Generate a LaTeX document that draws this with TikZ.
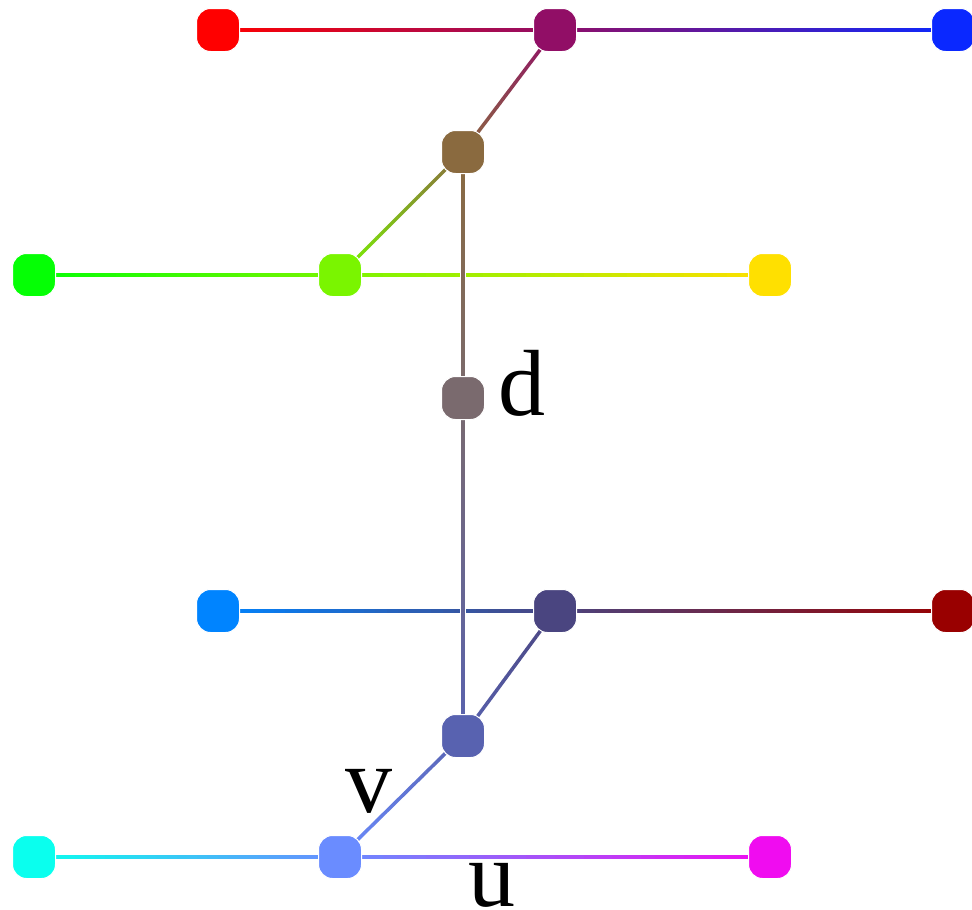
\documentclass[tikz,border=0pt]{standalone}
\usepackage{fontspec}
\setmainfont{Liberation Serif}
\usetikzlibrary{calc}
\pgfdeclarelayer{edges}
\pgfsetlayers{edges,main}
\definecolor{cRed}{HTML}{FF0000}
\definecolor{cPurple}{HTML}{910E66}
\definecolor{cBlue}{HTML}{0A28FF}
\definecolor{cBrown}{HTML}{8A6A3F}
\definecolor{cGreen}{HTML}{05FF05}
\definecolor{cLime}{HTML}{7AF500}
\definecolor{cYellow}{HTML}{FFE000}
\definecolor{cGrey}{HTML}{7A6A6E}
\definecolor{cAzure}{HTML}{0084FF}
\definecolor{cSlate}{HTML}{4A4580}
\definecolor{cDarkRed}{HTML}{990000}
\definecolor{cMedBlue}{HTML}{5862B0}
\definecolor{cCorn}{HTML}{6A8CFF}
\definecolor{cCyan}{HTML}{0AFFEE}
\definecolor{cMagenta}{HTML}{F00CF0}
\tikzset{
  vtx/.style={rectangle, rounded corners=14pt, minimum size=43pt, inner sep=0pt, draw=white, line width=1pt, fill=#1},
  lbl/.style={font=\fontsize{94}{94}\selectfont, inner sep=0pt, anchor=base, text depth=0pt},
  halo/.style={white, line width=6.5pt},
  seg/.style={line width=3.5pt}
}
\newcommand{\gedge}[4]{%
  \draw[halo] (#1.center) -- (#2.center);
  \foreach \i in {0,...,29}{%
    \pgfmathsetmacro{\pa}{\i/30}%
    \pgfmathsetmacro{\pb}{(\i+1.05)/30}%
    \pgfmathsetmacro{\pc}{100-(\i+0.5)*100/30}%
    \draw[seg, color=#3!\pc!#4] ($(#1.center)!\pa!(#2.center)$) -- ($(#1.center)!\pb!(#2.center)$);
  }%
}
\begin{document}
\begin{tikzpicture}[x=1pt,y=-1pt]
\useasboundingbox (0,0) rectangle (972,910);
\node[vtx=cRed] (red) at (218,30) {};
\node[vtx=cPurple] (pur) at (555,30) {};
\node[vtx=cBlue] (blu) at (953,30) {};
\node[vtx=cBrown] (bro) at (463,152) {};
\node[vtx=cGreen] (gre) at (34,275) {};
\node[vtx=cLime] (lim) at (340,275) {};
\node[vtx=cYellow] (yel) at (770,275) {};
\node[vtx=cGrey] (d) at (463,398) {};
\node[vtx=cAzure] (azu) at (218,611) {};
\node[vtx=cSlate] (sla) at (555,611) {};
\node[vtx=cDarkRed] (dre) at (953,611) {};
\node[vtx=cMedBlue] (mbl) at (463,736) {};
\node[vtx=cCyan] (cya) at (34,857) {};
\node[vtx=cCorn] (cor) at (340,857) {};
\node[vtx=cMagenta] (mag) at (770,857) {};
\node[lbl] (dl) at (522,415) {d};
\node[lbl] (vl) at (369,812) {v};
\node[lbl] (ul) at (492,906) {u};
\begin{pgfonlayer}{edges}
\gedge{red}{pur}{cRed}{cPurple}
\gedge{pur}{blu}{cPurple}{cBlue}
\gedge{gre}{lim}{cGreen}{cLime}
\gedge{lim}{yel}{cLime}{cYellow}
\gedge{azu}{sla}{cAzure}{cSlate}
\gedge{sla}{dre}{cSlate}{cDarkRed}
\gedge{cya}{cor}{cCyan}{cCorn}
\gedge{cor}{mag}{cCorn}{cMagenta}
\gedge{lim}{bro}{cLime}{cBrown}
\gedge{bro}{pur}{cBrown}{cPurple}
\gedge{cor}{mbl}{cCorn}{cMedBlue}
\gedge{mbl}{sla}{cMedBlue}{cSlate}
\gedge{bro}{d}{cBrown}{cGrey}
\gedge{d}{mbl}{cGrey}{cMedBlue}
\end{pgfonlayer}
\end{tikzpicture}
\end{document}
